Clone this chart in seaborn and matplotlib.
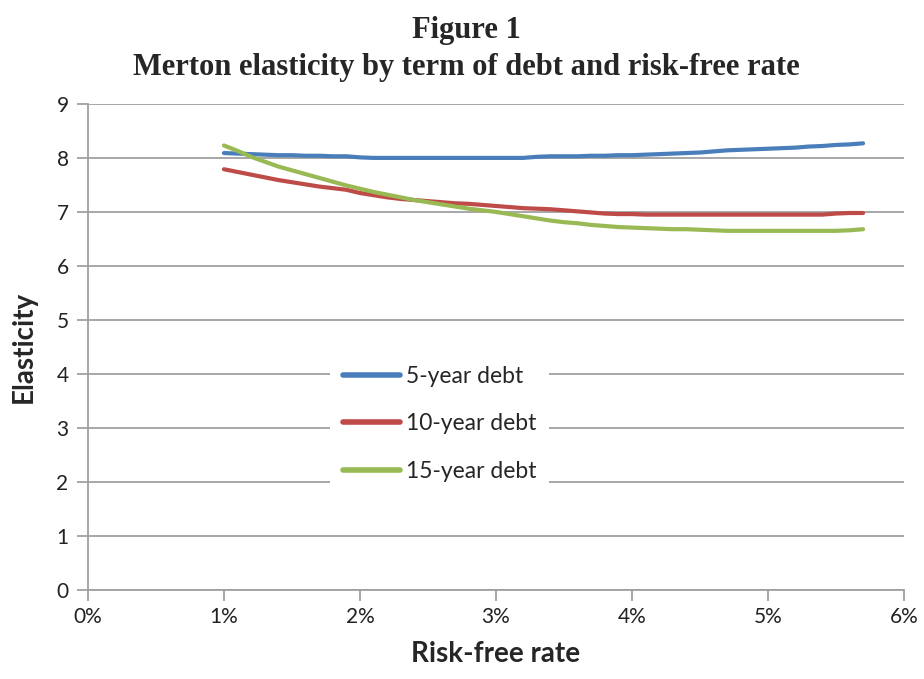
import numpy as np
import pandas as pd
import matplotlib
matplotlib.use('Agg')
import matplotlib.pyplot as plt
import seaborn as sns

# Risk-free rate in percent, 1.0% .. 5.7% in 0.1 steps
rate = np.round(np.arange(1.0, 5.71, 0.1), 1)

debt_5y = [8.09, 8.08, 8.07, 8.06, 8.05, 8.05, 8.04, 8.04, 8.03, 8.03,
           8.01, 8.00, 8.00, 8.00, 8.00, 8.00, 8.00, 8.00, 8.00, 8.00,
           8.00, 8.00, 8.00, 8.02, 8.03, 8.03, 8.03, 8.04, 8.04, 8.05,
           8.05, 8.06, 8.07, 8.08, 8.09, 8.10, 8.12, 8.14, 8.15, 8.16,
           8.17, 8.18, 8.19, 8.21, 8.22, 8.24, 8.25, 8.27]
debt_10y = [7.79, 7.74, 7.69, 7.64, 7.59, 7.55, 7.51, 7.47, 7.44, 7.41,
            7.35, 7.31, 7.27, 7.24, 7.22, 7.20, 7.18, 7.16, 7.15, 7.13,
            7.11, 7.09, 7.07, 7.06, 7.05, 7.03, 7.01, 6.99, 6.97, 6.96,
            6.96, 6.95, 6.95, 6.95, 6.95, 6.95, 6.95, 6.95, 6.95, 6.95,
            6.95, 6.95, 6.95, 6.95, 6.95, 6.97, 6.98, 6.98]
debt_15y = [8.23, 8.13, 8.02, 7.93, 7.84, 7.77, 7.70, 7.63, 7.56, 7.49,
            7.43, 7.37, 7.32, 7.27, 7.22, 7.18, 7.14, 7.10, 7.06, 7.03,
            7.00, 6.96, 6.92, 6.88, 6.84, 6.81, 6.79, 6.76, 6.74, 6.72,
            6.71, 6.70, 6.69, 6.68, 6.68, 6.67, 6.66, 6.65, 6.65, 6.65,
            6.65, 6.65, 6.65, 6.65, 6.65, 6.65, 6.66, 6.68]

series_names = ['5-year debt', '10-year debt', '15-year debt']
colors = ['#4A7EBB', '#BE4B48', '#98B954']

df = pd.DataFrame({
    'rate': np.tile(rate, 3),
    'elasticity': debt_5y + debt_10y + debt_15y,
    'series': np.repeat(series_names, len(rate)),
})

sns.set_style('white')
plt.rcParams['font.family'] = ['Lato', 'DejaVu Sans']

fig = plt.figure(figsize=(9.24, 6.79), dpi=100)
ax = fig.add_axes([0.0952, 0.131, 0.883, 0.716])

sns.lineplot(data=df, x='rate', y='elasticity', hue='series',
             palette=colors, hue_order=series_names, linewidth=3,
             ax=ax, zorder=3)

grid_c = '#A0A0A0'
ax.set_xlim(0, 6)
ax.set_ylim(0, 9)
ax.set_xticks(range(0, 7))
ax.set_xticklabels([f'{i}%' for i in range(0, 7)])
ax.set_yticks(range(0, 10))
ax.yaxis.grid(True, color=grid_c, linewidth=1.3)
ax.xaxis.grid(False)
for s in ['top', 'right']:
    ax.spines[s].set_visible(False)
for s in ['left', 'bottom']:
    ax.spines[s].set_color(grid_c)
    ax.spines[s].set_linewidth(1.3)
ax.tick_params(axis='both', which='major', labelsize=15, colors=grid_c,
               labelcolor='#222222', length=8, width=1.3, direction='out',
               left=True, bottom=True)
ax.tick_params(axis='x', pad=4)
ax.tick_params(axis='y', pad=6)
ax.set_axisbelow(True)

ax.set_xlabel('Risk-free rate', fontsize=20, fontweight='bold', labelpad=10)
ax.set_ylabel('Elasticity', fontsize=20, fontweight='bold', labelpad=14)

leg = ax.legend(loc='center', bbox_to_anchor=(0.431, 0.342), fontsize=16.5,
                frameon=True, facecolor='white', edgecolor='none',
                framealpha=1, labelspacing=1.15, handlelength=2.5,
                handletextpad=0.25, borderpad=0.55, fancybox=False)
leg.set_zorder(4)
for line in leg.get_lines():
    line.set_linewidth(4)

fig.text(0.505, 0.955, 'Figure 1', ha='center', va='center',
         fontsize=22, fontweight='bold', family='Liberation Serif')
fig.text(0.505, 0.9, 'Merton elasticity by term of debt and risk-free rate',
         ha='center', va='center', fontsize=22, fontweight='bold',
         family='Liberation Serif')

fig.savefig('out.png', dpi=100)
